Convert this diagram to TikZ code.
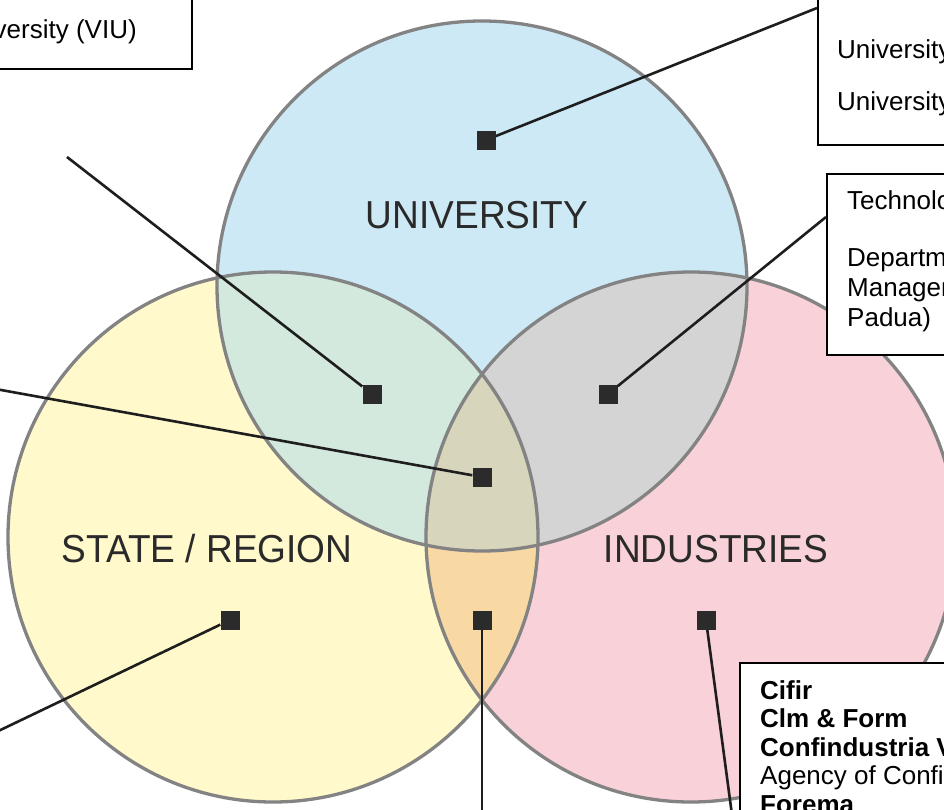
\documentclass[tikz,border=0pt]{standalone}
\usepackage{fontspec}
\setmainfont{Liberation Sans}
\newfontfamily\lblfont[FakeStretch=0.95]{Liberation Sans}
\usetikzlibrary{calc}
\definecolor{cU}{HTML}{CDE9F6}
\definecolor{cG}{HTML}{FFF9CB}
\definecolor{cI}{HTML}{F9D1D8}
\definecolor{cUG}{HTML}{D3E9DD}
\definecolor{cUI}{HTML}{D4D4D4}
\definecolor{cGI}{HTML}{F8D9A3}
\definecolor{cC}{HTML}{D7D5BB}
\definecolor{ringc}{HTML}{838383}
\definecolor{sqc}{HTML}{2B2B2B}
\definecolor{linec}{HTML}{1E1E1E}
\definecolor{lblc}{HTML}{2A2A2A}
\begin{document}
\begin{tikzpicture}[x=1bp,y=-1bp,
  ring/.style={draw=ringc, line width=3.3bp},
  sq/.style={fill=sqc, minimum size=19bp, inner sep=0pt, draw=none},
  conn/.style={draw=linec, line width=2.6bp},
  box/.style={draw=black, line width=1.6bp, fill=white, inner sep=0pt},
  lbl/.style={text=lblc, font=\lblfont\fontsize{39bp}{41bp}\selectfont, inner sep=0pt, anchor=base},
  btxt/.style={font=\fontsize{26bp}{30bp}\selectfont, inner sep=0pt, anchor=base west},
  bbtxt/.style={btxt, font=\bfseries\fontsize{26bp}{30bp}\selectfont}]
\useasboundingbox (0,0) rectangle (944,810);
\fill[white] (0,0) rectangle (944,810);
\def\r{265bp}
\coordinate (cu) at (482,286);
\coordinate (cg) at (273,537);
\coordinate (ci) at (691,537);
% circle fills
\fill[cU] (cu) circle[radius=\r];
\fill[cG] (cg) circle[radius=\r];
\fill[cI] (ci) circle[radius=\r];
\begin{scope}
  \clip (cu) circle[radius=\r];
  \fill[cUG] (cg) circle[radius=\r];
  \fill[cUI] (ci) circle[radius=\r];
\end{scope}
\begin{scope}
  \clip (cg) circle[radius=\r];
  \fill[cGI] (ci) circle[radius=\r];
\end{scope}
\begin{scope}
  \clip (cu) circle[radius=\r];
  \clip (cg) circle[radius=\r];
  \fill[cC] (ci) circle[radius=\r];
\end{scope}
% outlines
\draw[ring] (cu) circle[radius=\r];
\draw[ring] (cg) circle[radius=\r];
\draw[ring] (ci) circle[radius=\r];
% labels
\node[lbl] (lU) at (477,228) {UNIVERSITY};
\node[lbl] (lG) at (207,562) {STATE / REGION};
\node[lbl] (lI) at (716,562) {INDUSTRIES};
% boxes
\node[box, minimum width=600bp, minimum height=100bp, anchor=south east] (bVIU) at (193,70) {};
\node[btxt, anchor=base east] (tVIU) at (137,39) {Venice International University (VIU)};
\node[box, minimum width=300bp, minimum height=180bp, anchor=south west] (bUni) at (817,146) {};
\node[btxt] (tUni1) at (837,59) {University of Padua};
\node[btxt] (tUni2) at (837,110) {University of Venice};
\node[box, minimum width=300bp, minimum height=181bp, anchor=north west] (bTech) at (826,173) {};
\node[btxt] (tTech1) at (847,209) {Technology Transfer Office};
\node[btxt] (tTech2) at (847,266) {Department of};
\node[btxt] (tTech3) at (847,296) {Management (University of};
\node[btxt] (tTech4) at (847,326) {Padua)};
\node[box, minimum width=300bp, minimum height=300bp, anchor=north west] (bInd) at (739,662) {};
\node[bbtxt] (tInd1) at (760,699) {Cifir};
\node[bbtxt] (tInd2) at (760,727.5) {Clm \& Form};
\node[bbtxt] (tInd3) at (760,756) {Confindustria Veneto};
\node[btxt] (tInd4) at (760,784.5) {Agency of Confindustria Veneto};
\node[bbtxt] (tInd5) at (760,813) {Forema};
% squares
\node[sq] (sU) at (486,140) {};
\node[sq] (sUG) at (372,394) {};
\node[sq] (sUI) at (608,394) {};
\node[sq] (sC) at (482,477) {};
\node[sq] (sG) at (230,620) {};
\node[sq] (sGI) at (482,620) {};
\node[sq] (sI) at (706,620) {};
% connector ends
\coordinate (eUni) at (817,8);
\coordinate (eTech) at (826,217);
\coordinate (eUG) at (67,157);
\coordinate (eC) at (-10,388);
\coordinate (eG) at (-10,735);
\coordinate (eGI) at (482,830);
\coordinate (eI) at (734,830);
% connectors
\draw[conn] (sU) -- (eUni);
\draw[conn] (sUI) -- (eTech);
\draw[conn] (sUG) -- (eUG);
\draw[conn] (sC) -- (eC);
\draw[conn] (sG) -- (eG);
\draw[conn] (sGI) -- (eGI);
\draw[conn] (sI) -- (eI);
\end{tikzpicture}
\end{document}
